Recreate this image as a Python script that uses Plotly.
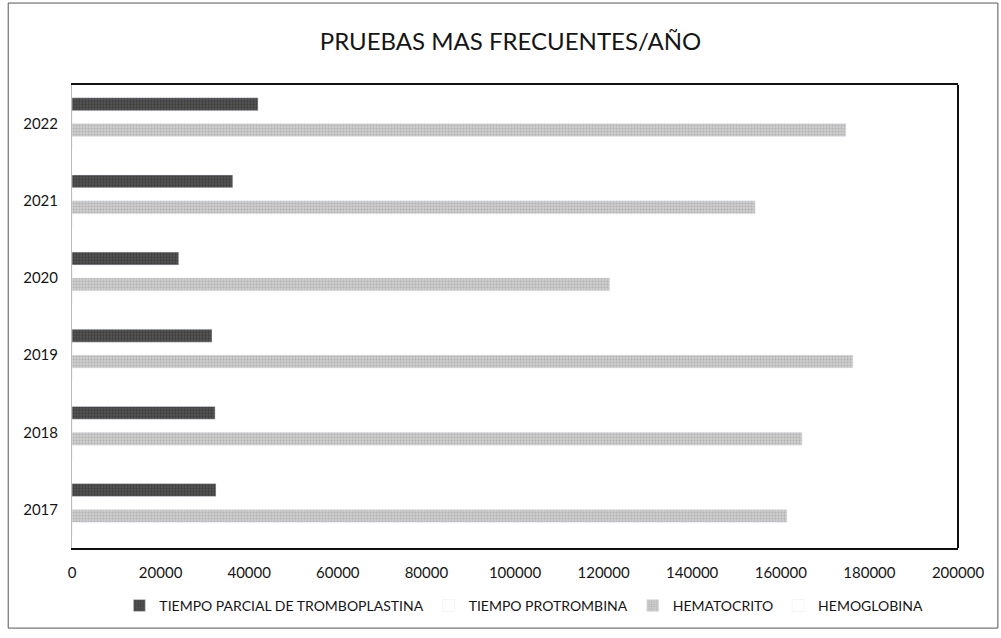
import plotly.graph_objects as go

years = ["2017", "2018", "2019", "2020", "2021", "2022"]
tpt = [32500, 32300, 31600, 24100, 36300, 42000]          # TIEMPO PARCIAL DE TROMBOPLASTINA
tp = [0, 0, 0, 0, 0, 0]                                     # TIEMPO PROTROMBINA (not visible)
hematocrito = [161400, 164800, 176300, 121400, 154200, 174700]
hemoglobina = [0, 0, 0, 0, 0, 0]                            # HEMOGLOBINA (not visible)
x_ticks = [0, 20000, 40000, 60000, 80000, 100000, 120000, 140000, 160000, 180000, 200000]

FONT = "Lato, Open Sans, sans-serif"
TXT = "#151515"

fig = go.Figure()
# plotly draws the first trace at the bottom of each group -> add in reverse order
fig.add_trace(go.Bar(y=years, x=hemoglobina, orientation="h", name="HEMOGLOBINA",
                     marker=dict(color="white")))
fig.add_trace(go.Bar(y=years, x=hematocrito, orientation="h", name="HEMATOCRITO",
                     marker=dict(color="#cdcdcd",
                                 pattern=dict(shape=".", fgcolor="#959595", size=3,
                                              solidity=0.35))))
fig.add_trace(go.Bar(y=years, x=tp, orientation="h", name="TIEMPO PROTROMBINA",
                     marker=dict(color="white")))
fig.add_trace(go.Bar(y=years, x=tpt, orientation="h", name="TIEMPO PARCIAL DE TROMBOPLASTINA",
                     marker=dict(color="#555555",
                                 pattern=dict(shape=".", fgcolor="#262626", size=3,
                                              solidity=0.45))))

fig.update_layout(
    width=1001, height=638,
    paper_bgcolor="white", plot_bgcolor="white",
    margin=dict(l=72, r=43, t=85, b=90),
    barmode="group", bargap=0.33, bargroupgap=0,
    title=dict(text="PRUEBAS MAS FRECUENTES/AÑO", x=0.51, xanchor="center",
               y=0.935, yanchor="middle",
               font=dict(family=FONT, size=24, color=TXT)),
    font=dict(family=FONT, size=15, color=TXT),
    showlegend=True,
    legend=dict(orientation="h", traceorder="reversed", x=0.51, xanchor="center",
                y=-0.125, yanchor="middle", font=dict(family=FONT, size=14, color=TXT),
                itemwidth=30),
    xaxis=dict(range=[0, 200000], tickvals=x_ticks, ticktext=[str(v) for v in x_ticks],
               showgrid=False, zeroline=False, showline=True, linecolor="#111",
               linewidth=2, mirror=True, ticks="outside", ticklen=10, tickcolor="white",
               tickfont=dict(family=FONT, size=15, color=TXT)),
    yaxis=dict(showgrid=False, zeroline=False, showline=True, linecolor="#bbbbbb",
               linewidth=1, ticks="outside", ticklen=10, tickcolor="white",
               tickfont=dict(family=FONT, size=15, color=TXT)),
    shapes=[
        # right edge of plot frame
        dict(type="line", xref="paper", yref="paper", x0=1, x1=1, y0=0, y1=1,
             line=dict(color="#111", width=2)),
        # outer chart frame
        dict(type="rect", xref="paper", yref="paper", x0=-0.072, x1=1.045,
             y0=-0.173, y1=1.177, line=dict(color="#555", width=1)),
    ],
)

fig.write_html("out.html", config={"displayModeBar": False},
               post_script="document.body.style.margin='0';")
